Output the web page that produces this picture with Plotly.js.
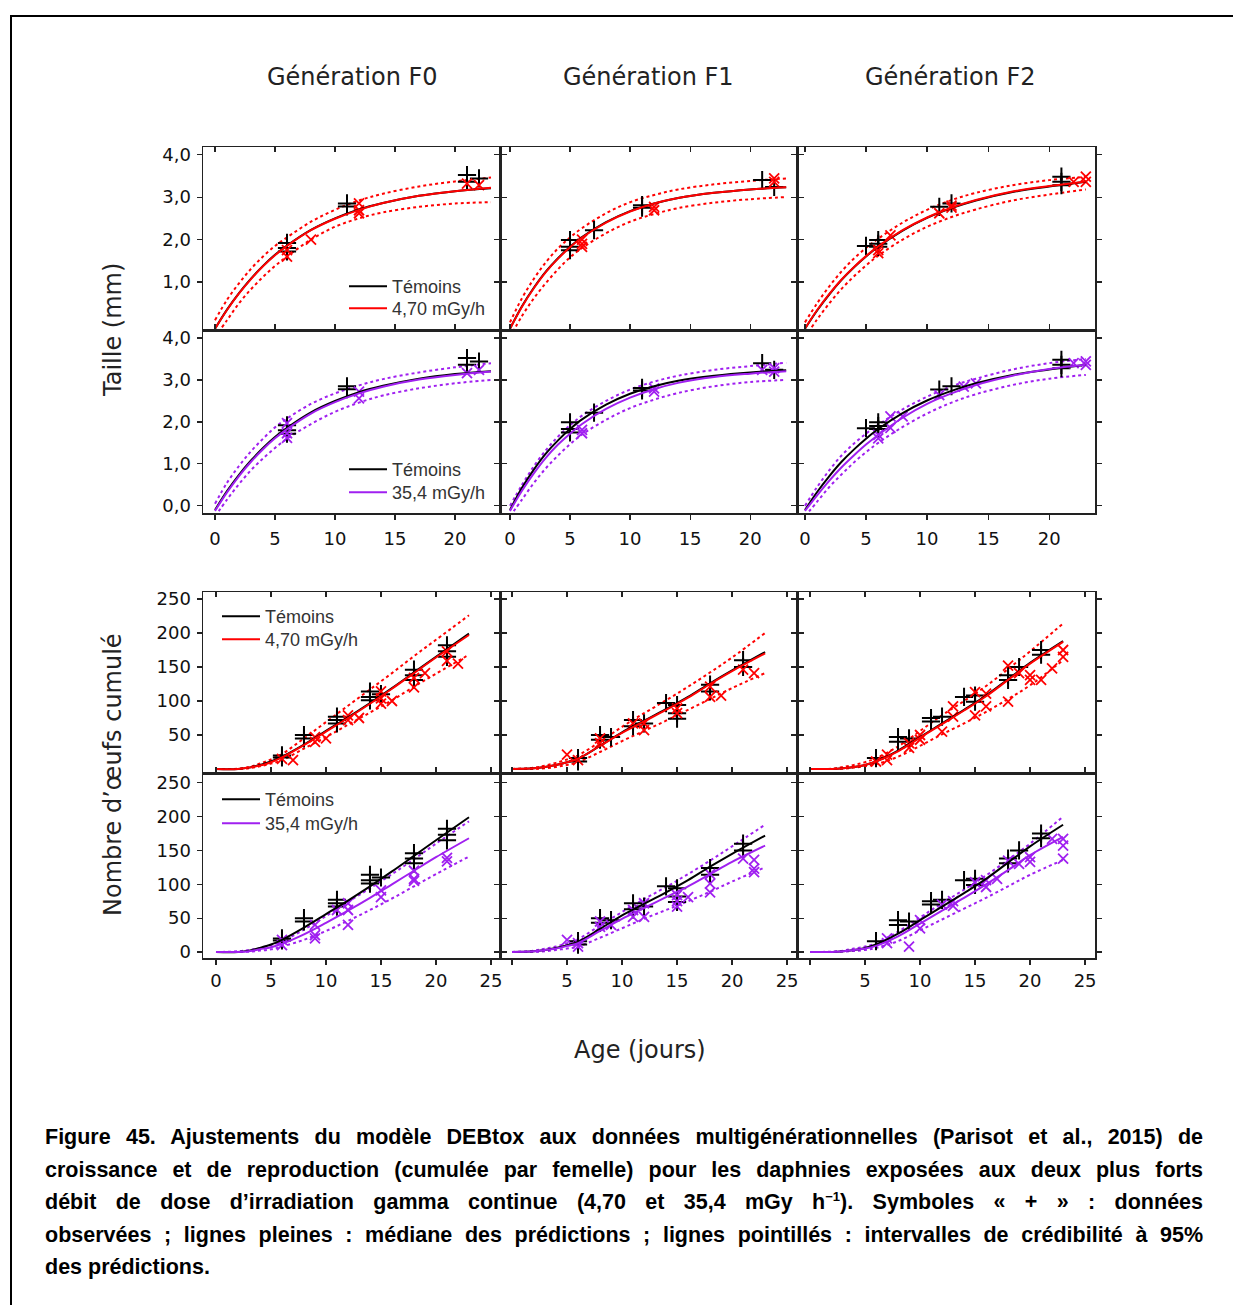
<!DOCTYPE html>
<html><head><meta charset="utf-8">
<script src="https://cdn.plot.ly/plotly-3.0.1.min.js"></script>
<style>
html,body{margin:0;padding:0;background:#fff;overflow:hidden;width:1233px;height:1305px;}
#chart{position:absolute;left:0;top:0;width:1233px;height:1305px;}
#frame{position:absolute;left:10px;top:15px;width:1260px;height:1330px;border:2px solid #000;box-sizing:border-box;pointer-events:none;}
#caption{position:absolute;left:45px;top:1121px;width:1158px;font-family:"Liberation Sans",Arial,sans-serif;font-weight:bold;font-size:21.5px;line-height:32.5px;color:#000;}
.ln{text-align:justify;text-align-last:justify;white-space:nowrap;}
.last{text-align:left;text-align-last:left;}
sup{font-size:13px;line-height:0;}
</style>
</head><body>
<div id="chart"></div>
<div id="frame"></div>
<div id="caption">
<div class="ln">Figure 45. Ajustements du modèle DEBtox aux données multigénérationnelles (Parisot et al., 2015) de</div>
<div class="ln">croissance et de reproduction (cumulée par femelle) pour les daphnies exposées aux deux plus forts</div>
<div class="ln">débit de dose d’irradiation gamma continue (4,70 et 35,4 mGy h<sup>−1</sup>). Symboles « + » : données</div>
<div class="ln">observées ; lignes pleines : médiane des prédictions ; lignes pointillés : intervalles de crédibilité à 95%</div>
<div class="ln last">des prédictions.</div>
</div>
<script>
// ---------- DATA ----------
const generations = ['Génération F0', 'Génération F1', 'Génération F2'];
const doseLabels = ['4,70 mGy/h', '35,4 mGy/h'];
const controlLabel = 'Témoins';

// Growth (Taille, mm) – prediction grid
const GROWTH_DAYS = [0,1,2,3,4,5,6,8,10,12,14,17,20,23];
const growthCtrlF0 = [-0.10,0.35,0.74,1.08,1.38,1.64,1.86,2.23,2.50,2.71,2.86,3.03,3.14,3.21];
const growthCtrlF1 = [-0.10,0.43,0.87,1.25,1.56,1.83,2.06,2.41,2.67,2.85,2.98,3.10,3.18,3.23];
const growthCtrlF2 = [-0.10,0.33,0.71,1.05,1.34,1.60,1.83,2.21,2.51,2.74,2.92,3.12,3.25,3.36];

const growthRedF0   = [-0.10,0.34,0.73,1.07,1.37,1.63,1.85,2.22,2.49,2.70,2.86,3.03,3.14,3.22];
const growthRedF0Up = [0.10,0.58,0.97,1.31,1.60,1.85,2.05,2.42,2.70,2.92,3.08,3.25,3.37,3.46];
const growthRedF0Lo = [-0.30,0.10,0.50,0.83,1.12,1.38,1.60,2.00,2.30,2.50,2.64,2.77,2.85,2.88];
const growthRedF1   = [-0.10,0.42,0.86,1.24,1.55,1.82,2.05,2.40,2.66,2.85,2.98,3.10,3.18,3.23];
const growthRedF1Up = [0.05,0.62,1.08,1.47,1.79,2.05,2.27,2.62,2.88,3.05,3.18,3.30,3.38,3.44];
const growthRedF1Lo = [-0.30,0.20,0.62,0.98,1.30,1.58,1.80,2.15,2.42,2.60,2.74,2.87,2.95,3.00];
const growthRedF2   = [-0.10,0.34,0.72,1.06,1.35,1.61,1.84,2.22,2.52,2.75,2.93,3.13,3.26,3.37];
const growthRedF2Up = [0.05,0.50,0.90,1.25,1.55,1.80,2.02,2.40,2.70,2.93,3.10,3.28,3.40,3.48];
const growthRedF2Lo = [-0.30,0.12,0.50,0.84,1.13,1.39,1.62,2.00,2.30,2.53,2.71,2.92,3.06,3.18];

const growthPurF0   = [-0.12,0.32,0.71,1.05,1.35,1.61,1.83,2.20,2.47,2.68,2.84,3.01,3.12,3.20];
const growthPurF0Up = [0.05,0.55,0.95,1.30,1.60,1.87,2.08,2.43,2.68,2.87,3.02,3.18,3.30,3.40];
const growthPurF0Lo = [-0.25,0.15,0.52,0.85,1.13,1.38,1.60,1.95,2.24,2.46,2.63,2.80,2.92,3.00];
const growthPurF1   = [-0.12,0.36,0.78,1.15,1.46,1.72,1.95,2.31,2.58,2.78,2.93,3.07,3.15,3.21];
const growthPurF1Up = [0.00,0.50,0.95,1.33,1.65,1.92,2.15,2.50,2.77,2.96,3.10,3.24,3.33,3.41];
const growthPurF1Lo = [-0.25,0.15,0.55,0.90,1.20,1.47,1.70,2.05,2.33,2.53,2.69,2.85,2.95,3.00];
const growthPurF2   = [-0.12,0.25,0.60,0.92,1.20,1.46,1.69,2.10,2.43,2.68,2.88,3.10,3.26,3.36];
const growthPurF2Up = [0.00,0.45,0.85,1.20,1.48,1.72,1.93,2.30,2.60,2.85,3.03,3.25,3.40,3.50];
const growthPurF2Lo = [-0.25,0.10,0.45,0.75,1.03,1.28,1.50,1.88,2.20,2.46,2.66,2.88,3.03,3.12];

// Growth observations
const obsGCtrlF0Day = [6,6,6,11,11,21,21,22];
const obsGCtrlF0Val = [1.92,1.80,1.72,2.85,2.78,3.52,3.36,3.44];
const obsGCtrlF1Day = [5,5,5,7,11,11,21,22];
const obsGCtrlF1Val = [1.99,1.83,1.75,2.22,2.81,2.75,3.40,3.24];
const obsGCtrlF2Day = [5,6,6,6,11,12,21,21,21];
const obsGCtrlF2Val = [1.85,1.99,1.90,1.83,2.77,2.85,3.48,3.36,3.28];
const obsGRedF0Day = [6,6,8,12,12,12,21,22];
const obsGRedF0Val = [1.75,1.60,2.00,2.85,2.69,2.62,3.32,3.28];
const obsGRedF1Day = [6,6,6,12,12,22,22];
const obsGRedF1Val = [2.00,1.90,1.83,2.77,2.69,3.44,3.36];
const obsGRedF2Day = [6,6,7,11,12,12,22,23,23];
const obsGRedF2Val = [1.75,1.68,2.10,2.62,2.80,2.75,3.36,3.48,3.36];
const obsGPurF0Day = [6,6,6,12,12,21,22];
const obsGPurF0Val = [1.97,1.73,1.62,2.72,2.56,3.16,3.24];
const obsGPurF1Day = [6,6,12,12,21,22,22];
const obsGPurF1Val = [1.81,1.73,2.80,2.72,3.24,3.28,3.20];
const obsGPurF2Day = [6,6,7,7,8,11,13,14,22,23,23];
const obsGPurF2Val = [1.61,1.69,2.13,1.86,2.13,2.64,2.84,2.92,3.40,3.44,3.36];

// Reproduction (Nombre d'œufs cumulé) – prediction grid
const REPRO_DAYS = [0,2,3,4,5,6,8,10,12,14,16,18,20,23];
const reproCtrlF0 = [0,0,2,6,11,18,36,56,76,97,119,142,165,199];
const reproCtrlF1 = [0,1,3,6,10,15,34,54,71,88,106,126,145,172];
const reproCtrlF2 = [0,0,1,3,6,11,27,47,67,87,108,132,156,188];

const reproRedF0   = [0,0,2,5,10,17,35,55,75,96,118,141,164,197];
const reproRedF0Up = [0,0.5,3,8,14,22,45,69,93,117,141,166,190,226];
const reproRedF0Lo = [0,0,1,4,8,13,30,47,65,83,101,121,140,168];
const reproRedF1   = [0,1,3,6,10,15,34,53,70,87,105,125,144,170];
const reproRedF1Up = [0,2,5,9,14,20,40,62,82,101,121,142,164,200];
const reproRedF1Lo = [0,0,1,3,6,10,25,41,56,71,87,103,119,141];
const reproRedF2   = [0,0,1,3,6,11,26,46,66,86,107,131,155,187];
const reproRedF2Up = [0,0.5,3,6,10,16,33,56,79,100,122,147,173,214];
const reproRedF2Lo = [0,0,0.5,2,4,7,18,34,51,67,84,103,123,160];

const reproPurF0   = [0,0,1,4,7,12,26,43,61,80,100,120,140,168];
const reproPurF0Up = [0,1,3,6,10,16,33,53,74,94,115,137,160,193];
const reproPurF0Lo = [0,0,0.5,2,4,8,18,31,46,62,79,97,115,141];
const reproPurF1   = [0,1,3,5,9,13,31,49,65,81,97,115,133,157];
const reproPurF1Up = [0,2,5,8,13,19,39,59,78,96,115,135,156,188];
const reproPurF1Lo = [0,0,1,3,5,8,21,35,49,62,75,89,104,125];
const reproPurF2   = [0,0,1,3,5,9,23,42,61,80,100,121,143,170];
const reproPurF2Up = [0,0.5,2,5,8,13,30,51,72,92,113,136,160,200];
const reproPurF2Lo = [0,0,0.5,1.5,3,6,16,32,48,64,80,97,114,136];

// Reproduction observations
const obsRCtrlF0Day = [6,6,8,8,11,11,11,14,14,14,15,18,18,18,21,21,21];
const obsRCtrlF0Val = [20,17,50,45,77,72,67,114,106,101,110,146,138,131,182,173,165];
const obsRCtrlF1Day = [6,6,8,8,9,11,11,12,14,15,15,15,18,18,21,21];
const obsRCtrlF1Val = [16,11,50,43,47,72,63,67,97,94,82,74,124,114,160,150];
const obsRCtrlF2Day = [6,8,8,9,11,11,12,14,15,15,18,18,19,21,21];
const obsRCtrlF2Val = [16,47,40,45,75,70,77,106,108,99,138,131,150,175,168];
const obsRRedF0Day = [6,7,9,9,10,12,12,13,15,15,15,16,18,18,19,21,21,22];
const obsRRedF0Val = [15,13,47,40,45,79,72,75,114,104,96,100,134,120,141,173,159,155];
const obsRRedF1Day = [5,6,8,8,11,12,12,15,15,18,18,19,21,22];
const obsRRedF1Val = [21,13,45,38,67,67,57,89,82,121,106,108,146,141];
const obsRRedF2Day = [6,7,7,9,9,10,10,12,13,13,15,15,16,16,18,18,19,20,20,21,22,23,23];
const obsRRedF2Val = [11,21,13,38,31,50,43,55,92,77,79,113,111,92,152,99,141,138,131,131,148,175,165];
const obsRPurF0Day = [6,6,9,9,9,11,12,12,12,15,15,18,18,18,21,21];
const obsRPurF0Val = [18,10,40,25,20,62,72,62,40,91,81,120,108,105,139,134];
const obsRPurF1Day = [5,6,6,8,8,9,11,11,12,12,15,15,15,16,18,18,18,21,22,22,22];
const obsRPurF1Val = [18,13,8,45,37,40,62,52,72,52,84,75,67,81,115,101,88,138,136,123,118];
const obsRPurF2Day = [7,7,9,10,10,12,13,13,15,16,16,17,18,19,20,20,22,23,23,23];
const obsRPurF2Val = [20,13,8,47,35,70,75,68,103,106,96,108,135,130,140,133,167,167,157,138];

// ---------- STYLE ----------
const RED = '#ff0000', PURPLE = '#a020f0', BLACK = '#000000';

const panels = [
  {days:GROWTH_DAYS, ctrl:growthCtrlF0, trt:growthRedF0, up:growthRedF0Up, lo:growthRedF0Lo, cx:obsGCtrlF0Day, cy:obsGCtrlF0Val, tx:obsGRedF0Day, ty:obsGRedF0Val, color:RED, legends:['legend','legend2'], label:doseLabels[0]},
  {days:GROWTH_DAYS, ctrl:growthCtrlF1, trt:growthRedF1, up:growthRedF1Up, lo:growthRedF1Lo, cx:obsGCtrlF1Day, cy:obsGCtrlF1Val, tx:obsGRedF1Day, ty:obsGRedF1Val, color:RED},
  {days:GROWTH_DAYS, ctrl:growthCtrlF2, trt:growthRedF2, up:growthRedF2Up, lo:growthRedF2Lo, cx:obsGCtrlF2Day, cy:obsGCtrlF2Val, tx:obsGRedF2Day, ty:obsGRedF2Val, color:RED},
  {days:GROWTH_DAYS, ctrl:growthCtrlF0, trt:growthPurF0, up:growthPurF0Up, lo:growthPurF0Lo, cx:obsGCtrlF0Day, cy:obsGCtrlF0Val, tx:obsGPurF0Day, ty:obsGPurF0Val, color:PURPLE, legends:['legend3','legend4'], label:doseLabels[1]},
  {days:GROWTH_DAYS, ctrl:growthCtrlF1, trt:growthPurF1, up:growthPurF1Up, lo:growthPurF1Lo, cx:obsGCtrlF1Day, cy:obsGCtrlF1Val, tx:obsGPurF1Day, ty:obsGPurF1Val, color:PURPLE},
  {days:GROWTH_DAYS, ctrl:growthCtrlF2, trt:growthPurF2, up:growthPurF2Up, lo:growthPurF2Lo, cx:obsGCtrlF2Day, cy:obsGCtrlF2Val, tx:obsGPurF2Day, ty:obsGPurF2Val, color:PURPLE},
  {days:REPRO_DAYS, ctrl:reproCtrlF0, trt:reproRedF0, up:reproRedF0Up, lo:reproRedF0Lo, cx:obsRCtrlF0Day, cy:obsRCtrlF0Val, tx:obsRRedF0Day, ty:obsRRedF0Val, color:RED, legends:['legend5','legend6'], label:doseLabels[0]},
  {days:REPRO_DAYS, ctrl:reproCtrlF1, trt:reproRedF1, up:reproRedF1Up, lo:reproRedF1Lo, cx:obsRCtrlF1Day, cy:obsRCtrlF1Val, tx:obsRRedF1Day, ty:obsRRedF1Val, color:RED},
  {days:REPRO_DAYS, ctrl:reproCtrlF2, trt:reproRedF2, up:reproRedF2Up, lo:reproRedF2Lo, cx:obsRCtrlF2Day, cy:obsRCtrlF2Val, tx:obsRRedF2Day, ty:obsRRedF2Val, color:RED},
  {days:REPRO_DAYS, ctrl:reproCtrlF0, trt:reproPurF0, up:reproPurF0Up, lo:reproPurF0Lo, cx:obsRCtrlF0Day, cy:obsRCtrlF0Val, tx:obsRPurF0Day, ty:obsRPurF0Val, color:PURPLE, legends:['legend7','legend8'], label:doseLabels[1]},
  {days:REPRO_DAYS, ctrl:reproCtrlF1, trt:reproPurF1, up:reproPurF1Up, lo:reproPurF1Lo, cx:obsRCtrlF1Day, cy:obsRCtrlF1Val, tx:obsRPurF1Day, ty:obsRPurF1Val, color:PURPLE},
  {days:REPRO_DAYS, ctrl:reproCtrlF2, trt:reproPurF2, up:reproPurF2Up, lo:reproPurF2Lo, cx:obsRCtrlF2Day, cy:obsRCtrlF2Val, tx:obsRPurF2Day, ty:obsRPurF2Val, color:PURPLE}
];

const W = 1233, H = 1305;
const px = v => v / W, py = v => 1 - v / H;
const colX = [[203,500],[500,797],[797,1095]];
const rowY = [[147,330],[330,513],[592,773],[773,958]];
const topXRange = [[-1,23.75],[-0.83,23.9],[-0.65,23.75]];
const botXRange = [[-1.18,25.82],[-1.09,25.9],[-1.18,25.9]];
const yRanges = [[-0.13,4.18],[-0.17,4.19],[-5.9,260.3],[-8.9,264.4]];

const traces = [];
const layout = {
  width: W, height: H,
  margin: {l:0, r:0, t:0, b:0},
  paper_bgcolor: '#fff', plot_bgcolor: '#fff',
  separators: ', ',
  font: {family: 'DejaVu Sans', size: 18, color: '#111'},
  annotations: [], showlegend: true
};

// one legend box per entry, so the entries can sit as tightly as in the original
const legFont = {family: 'Liberation Sans, Arial', size: 18, color: '#333'};
const legPos = {
  legend:[344,268], legend2:[344,290],
  legend3:[344,451], legend4:[344,474],
  legend5:[217,598], legend6:[217,621],
  legend7:[217,781], legend8:[217,805]
};
Object.keys(legPos).forEach(k => {
  layout[k] = {x: px(legPos[k][0]), y: py(legPos[k][1]), xanchor:'left', yanchor:'top',
    bgcolor:'rgba(0,0,0,0)', borderwidth:0, font: legFont, tracegroupgap:0, itemwidth:38};
});

panels.forEach((p, i) => {
  const row = Math.floor(i / 3), col = i % 3, n = i + 1;
  const xa = 'x' + (n === 1 ? '' : n), ya = 'y' + (n === 1 ? '' : n);
  const common = {xaxis: xa, yaxis: ya, hoverinfo: 'skip'};
  const hasLeg = !!p.legends;
  traces.push(Object.assign({x:p.days, y:p.up, mode:'lines', line:{color:p.color, width:2, dash:'dot', shape:'spline'}, showlegend:false}, common));
  traces.push(Object.assign({x:p.days, y:p.lo, mode:'lines', line:{color:p.color, width:2, dash:'dot', shape:'spline'}, showlegend:false}, common));
  traces.push(Object.assign({x:p.cx, y:p.cy, mode:'markers', marker:{symbol:'cross-thin', size:13, color:BLACK, line:{color:BLACK, width:2}}, showlegend:false}, common));
  traces.push(Object.assign({x:p.tx, y:p.ty, mode:'markers', marker:{symbol:'x-thin', size:10, color:p.color, line:{color:p.color, width:1.8}}, showlegend:false}, common));
  traces.push(Object.assign({x:p.days, y:p.ctrl, mode:'lines', name:controlLabel, line:{color:BLACK, width:2, shape:'spline'},
    showlegend: hasLeg, legend: hasLeg ? p.legends[0] : 'legend'}, common));
  traces.push(Object.assign({x:p.days, y:p.trt, mode:'lines', name:p.label || '', line:{color:p.color, width:2, shape:'spline'},
    showlegend: hasLeg, legend: hasLeg ? p.legends[1] : 'legend'}, common));

  const isGrowth = row < 2;
  const xKey = 'xaxis' + (n === 1 ? '' : n), yKey = 'yaxis' + (n === 1 ? '' : n);
  const labelRow = (row === 1 || row === 3);
  let tickvals, ticktext;
  if (isGrowth) { tickvals = [0,5,10,15,20]; ticktext = ['0','5','10','15','20']; }
  else { tickvals = [0,5,10,15,20,25]; ticktext = (col === 0) ? ['0','5','10','15','20','25'] : ['','5','10','15','20','25']; }
  layout[xKey] = {
    domain: [px(colX[col][0]), px(colX[col][1])],
    range: isGrowth ? topXRange[col] : botXRange[col],
    anchor: ya, showgrid:false, zeroline:false,
    showline:true, linecolor:'#222', linewidth:1.5, mirror:'ticks',
    ticks: labelRow ? 'outside' : 'inside', ticklen:5, tickwidth:1.2, tickcolor:'#222',
    tickmode:'array', tickvals: tickvals, ticktext: ticktext,
    showticklabels: labelRow, ticklabelstandoff: isGrowth ? 4 : 1,
    tickfont: {family:'DejaVu Sans', size:18, color:'#111'}
  };
  let ytv;
  if (row === 0) ytv = [1,2,3,4];
  else if (row === 1) ytv = [0,1,2,3,4];
  else if (row === 2) ytv = [50,100,150,200,250];
  else ytv = [0,50,100,150,200,250];
  layout[yKey] = {
    domain: [py(rowY[row][1]), py(rowY[row][0])],
    range: yRanges[row], anchor: xa, showgrid:false, zeroline:false,
    showline:true, linecolor:'#222', linewidth:1.5, mirror:'ticks',
    ticks:'outside', ticklen:5, tickwidth:1.2, tickcolor:'#222',
    tickmode:'array', tickvals: ytv, tickformat: isGrowth ? '.1f' : 'd',
    showticklabels: col === 0, ticklabelstandoff: 2,
    tickfont: {family:'DejaVu Sans', size:18, color:'#111'}
  };
});

const titleFont = {family:'DejaVu Sans', size:24, color:'#222'};
[352, 648, 950].forEach((x, k) => {
  layout.annotations.push({text: generations[k], x: px(x), y: py(77), xref:'paper', yref:'paper',
    xanchor:'center', yanchor:'middle', showarrow:false, font: titleFont});
});
const axFont = {family:'DejaVu Sans', size:24, color:'#222'};
layout.annotations.push({text:'Taille (mm)', x: px(113), y: py(330), xref:'paper', yref:'paper',
  xanchor:'center', yanchor:'middle', textangle:-90, showarrow:false, font: axFont});
layout.annotations.push({text:'Nombre d’œufs cumulé', x: px(113), y: py(775), xref:'paper', yref:'paper',
  xanchor:'center', yanchor:'middle', textangle:-90, showarrow:false, font: axFont});
layout.annotations.push({text:'Age (jours)', x: px(640), y: py(1050), xref:'paper', yref:'paper',
  xanchor:'center', yanchor:'middle', showarrow:false, font: axFont});

Plotly.newPlot('chart', traces, layout, {staticPlot:true, displayModeBar:false});
</script>
</body></html>
